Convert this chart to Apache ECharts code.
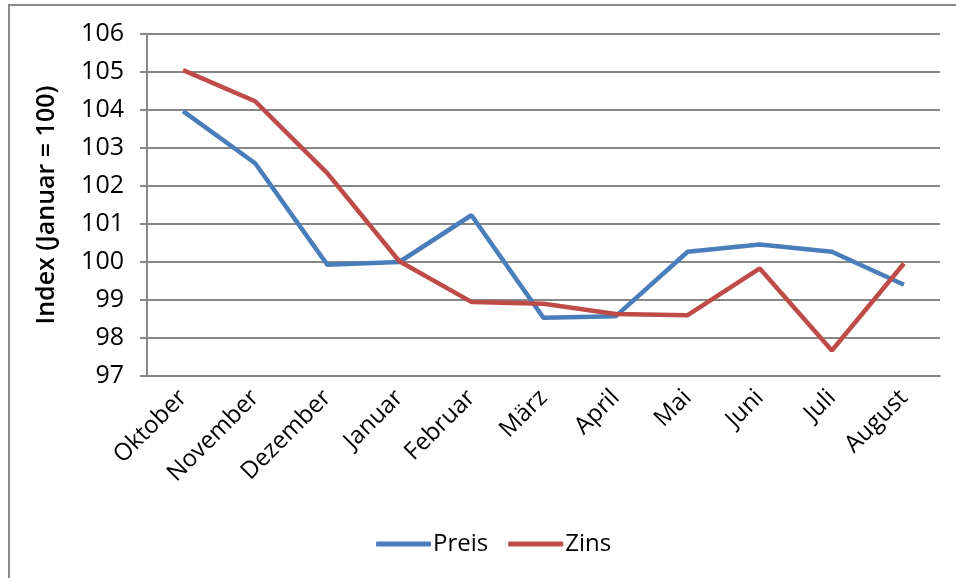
<!DOCTYPE html>
<html>
<head>
<meta charset="utf-8">
<script src="https://cdn.jsdelivr.net/npm/echarts@6/dist/echarts.min.js"></script>
<style>
    html, body { margin: 0; padding: 0; background: #fff; }
    #chart { width: 956px; height: 578px; }
</style>
</head>
<body>
<div id="chart"></div>
<script>
    const months = ['Oktober', 'November', 'Dezember', 'Januar', 'Februar', 'März', 'April', 'Mai', 'Juni', 'Juli', 'August'];
    const preis = [103.97, 102.6, 99.93, 100.0, 101.23, 98.53, 98.57, 100.27, 100.46, 100.27, 99.4];
    const zins = [105.05, 104.23, 102.34, 100.02, 98.95, 98.9, 98.63, 98.6, 99.83, 97.67, 99.96];

    const font = '"Open Sans", "Noto Sans", sans-serif';
    const chart = echarts.init(document.getElementById('chart'));

    chart.setOption({
        animation: false,
        textStyle: { fontFamily: font },
        graphic: [{
            type: 'rect',
            shape: { x: 9, y: 5, width: 1000, height: 1000 },
            style: { fill: 'none', stroke: '#8c8c8c', lineWidth: 2 },
            silent: true
        }],
        grid: { left: 147, right: 16, top: 34, bottom: 202, containLabel: false },
        legend: {
            data: ['Preis', 'Zins'],
            left: 371,
            top: 527,
            icon: 'roundRect',
            itemWidth: 55,
            itemHeight: 5,
            itemGap: 20,
            textStyle: { fontSize: 24, color: '#000', fontFamily: font, padding: [0, 0, 0, -3] }
        },
        xAxis: {
            type: 'category',
            data: months,
            boundaryGap: true,
            axisLine: { lineStyle: { color: '#878787', width: 2 } },
            axisTick: { length: 7, lineStyle: { color: '#878787', width: 2 } },
            axisLabel: { rotate: 45, fontSize: 24, color: '#000', margin: 18, interval: 0, fontFamily: font }
        },
        yAxis: {
            type: 'value',
            min: 97,
            max: 106,
            interval: 1,
            name: 'Index (Januar = 100)',
            nameLocation: 'middle',
            nameGap: 88,
            nameTextStyle: { fontSize: 25, fontWeight: 600, color: '#000', fontFamily: font },
            axisLine: { show: true, lineStyle: { color: '#878787', width: 2 } },
            axisTick: { show: true, length: 7, lineStyle: { color: '#878787', width: 2 } },
            axisLabel: { fontSize: 25, color: '#000', margin: 23, fontFamily: font },
            splitLine: { lineStyle: { color: '#878787', width: 2 } }
        },
        series: [
            {
                name: 'Preis',
                type: 'line',
                data: preis,
                showSymbol: false,
                itemStyle: { color: '#4a7ebb' },
                lineStyle: { color: '#4a7ebb', width: 4.5 }
            },
            {
                name: 'Zins',
                type: 'line',
                data: zins,
                showSymbol: false,
                itemStyle: { color: '#be4b48' },
                lineStyle: { color: '#be4b48', width: 4.5 }
            }
        ]
    });
</script>
</body>
</html>
